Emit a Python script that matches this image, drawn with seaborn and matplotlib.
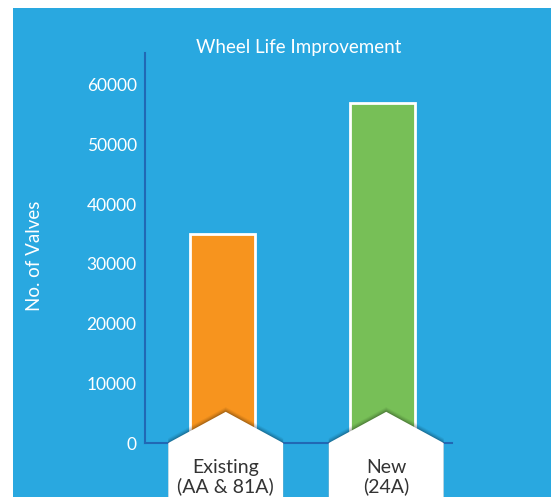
import matplotlib
matplotlib.use("Agg")
import matplotlib.pyplot as plt
from matplotlib.patches import Polygon, Rectangle
import seaborn as sns

# data
categories = ["Existing\n(AA & 81A)", "New\n(24A)"]
valves = [35000, 57000]
bar_colors = ["#F7941E", "#77BF57"]
yticks = [0, 10000, 20000, 30000, 40000, 50000, 60000]

bg_blue = "#29A8E0"
axis_blue = "#2168B4"

sns.set_style("white")
plt.rcParams["font.family"] = ["Lato", "DejaVu Sans"]

fig = plt.figure(figsize=(5.51, 4.97), dpi=100)
fig.patch.set_facecolor("white")
# blue panel
fig.patches.append(Rectangle((13 / 551, 0), 1 - 13 / 551, 489 / 497,
                             transform=fig.transFigure, facecolor=bg_blue,
                             edgecolor="none", zorder=-10))

ax = fig.add_axes([145 / 551, 54 / 497, 307 / 551, 390 / 497])
ax.set_facecolor("none")

sns.barplot(x=list(range(len(categories))), y=valves, hue=list(range(len(categories))),
            palette=bar_colors, saturation=1, width=0.405, edgecolor="white",
            linewidth=2, legend=False, ax=ax, zorder=2)

ax.set_xlim(-0.483, 1.43)
ax.set_ylim(0, 65300)
ax.set_yticks(yticks)
ax.set_yticklabels([str(t) for t in yticks], color="white", fontsize=12.5)
ax.set_xticks([])
ax.set_xlabel("")
ax.tick_params(axis="y", direction="in", length=6, width=1.5, color="white", pad=6)

sns.despine(ax=ax)
for side in ["left", "bottom"]:
    ax.spines[side].set_color(axis_blue)
    ax.spines[side].set_linewidth(1.5)

ax.set_ylabel("No. of Valves", color="white", fontsize=13.5)
ax.yaxis.set_label_coords(-0.332, 0.48)
ax.text(0.5, 1.013, "Wheel Life Improvement", transform=ax.transAxes,
        ha="center", va="center", color="white", fontsize=13.5)

# house-shaped label boxes under the bars
tr = ax.get_xaxis_transform()
hw = 0.358
for i, label in enumerate(categories):
    cx = i + 0.02
    pts = [(cx - hw, -0.2), (cx - hw, 0.0), (cx, 0.08), (cx + hw, 0.0), (cx + hw, -0.2)]
    for k, a in enumerate([0.05, 0.07, 0.09, 0.12]):
        off = 0.012 - k * 0.003
        shadow = [(x, y + off) for x, y in pts]
        ax.add_patch(Polygon(shadow, closed=True, transform=tr, facecolor="black",
                             edgecolor="none", alpha=a, clip_on=False, zorder=3))
    ax.add_patch(Polygon(pts, closed=True, transform=tr, facecolor="white",
                         edgecolor="none", clip_on=False, zorder=4))
    ax.text(cx, -0.087, label, transform=tr, ha="center", va="center",
            color="#333333", fontsize=14, linespacing=1.1, zorder=5)

fig.savefig("out.png", dpi=100, facecolor=fig.get_facecolor())
